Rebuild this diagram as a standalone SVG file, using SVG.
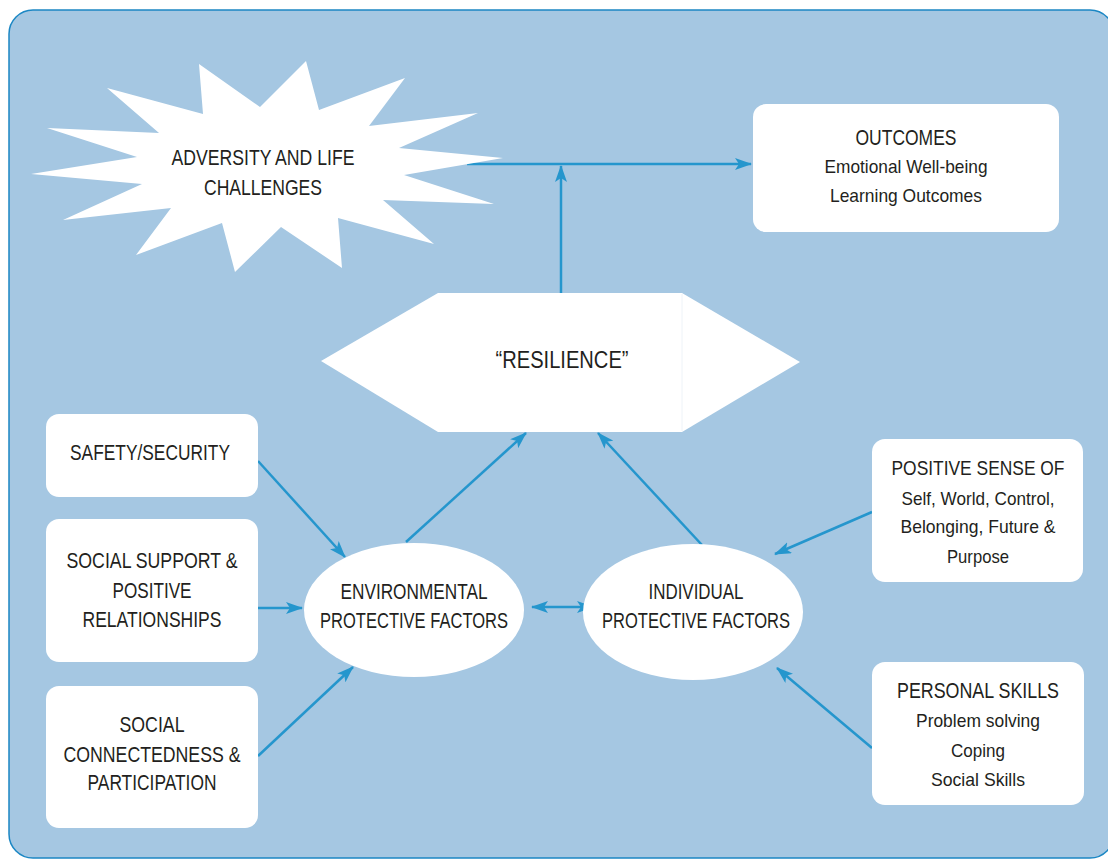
<svg xmlns="http://www.w3.org/2000/svg" width="1108" height="859" viewBox="0 0 1108 859">
<style>
.t{font-family:"Liberation Sans Narrow","Liberation Sans",Arial,sans-serif;fill:#231f20;text-anchor:middle}
.h{font-size:22px}
.s{font-size:19px}
.box{fill:#ffffff}
.c{stroke:#2596cd;stroke-width:2.5;fill:none}
</style>
<defs>
<marker id="ah" viewBox="0 0 17 12" refX="16" refY="6" markerWidth="17" markerHeight="12" markerUnits="userSpaceOnUse" orient="auto-start-reverse">
<path d="M0,0 L17,6 L0,12 L4,6 Z" fill="#2596cd"/>
</marker>
</defs>
<rect x="9" y="10" width="1105" height="848" rx="24" fill="#a5c7e2" stroke="#1b87c4" stroke-width="1.5"/>
<g id="connectors">
<line class="c" x1="467" y1="164" x2="751" y2="164" marker-end="url(#ah)"/>
<line class="c" x1="561" y1="293" x2="561" y2="166" marker-end="url(#ah)"/>
<line class="c" x1="258" y1="461" x2="345" y2="557" marker-end="url(#ah)"/>
<line class="c" x1="258" y1="608" x2="302" y2="608" marker-end="url(#ah)"/>
<line class="c" x1="258" y1="756" x2="353" y2="667" marker-end="url(#ah)"/>
<line class="c" x1="406" y1="542" x2="526" y2="433" marker-end="url(#ah)"/>
<line class="c" x1="702" y1="545" x2="598" y2="433" marker-end="url(#ah)"/>
<line class="c" x1="872" y1="512" x2="775" y2="554" marker-end="url(#ah)"/>
<line class="c" x1="872" y1="748" x2="777" y2="668" marker-end="url(#ah)"/>
<line class="c" x1="532" y1="607" x2="593" y2="607" marker-start="url(#ah)" marker-end="url(#ah)"/>
</g>
<g id="adversity">
<polygon class="box" points="47,128 159,133 107,88 203,114 199,64 260,107 306,61 319,110 405,78 369,126 478,113 399,148 503,158 404,175 494,204 383,200 434,244 338,218 342,268 281,227 235,272 222,223 136,255 171,208 63,220 142,184 31,174 137,157"/>
<text class="t h" x="263" y="165" textLength="183" lengthAdjust="spacingAndGlyphs">ADVERSITY AND LIFE</text>
<text class="t h" x="263" y="195" textLength="118" lengthAdjust="spacingAndGlyphs">CHALLENGES</text>
</g>
<g id="outcomes">
<rect class="box" x="753" y="104" width="306" height="128" rx="13"/>
<text class="t h" x="906" y="145" textLength="101" lengthAdjust="spacingAndGlyphs">OUTCOMES</text>
<text class="t s" x="906" y="173" textLength="163" lengthAdjust="spacingAndGlyphs">Emotional Well-being</text>
<text class="t s" x="906" y="202" textLength="152" lengthAdjust="spacingAndGlyphs">Learning Outcomes</text>
</g>
<g id="resilience">
<polygon class="box" points="321,361 438,293 682,293 800,362 682,432 438,432"/>
<line x1="682" y1="294" x2="682" y2="431" stroke="#eef3f8" stroke-width="1"/>
<text class="t" x="562" y="368" style="font-size:24px" textLength="133" lengthAdjust="spacingAndGlyphs">“RESILIENCE”</text>
</g>
<g id="safety">
<rect class="box" x="46" y="414" width="212" height="83" rx="13"/>
<text class="t h" x="150" y="460" textLength="160" lengthAdjust="spacingAndGlyphs">SAFETY/SECURITY</text>
</g>
<g id="social-support">
<rect class="box" x="46" y="519" width="212" height="143" rx="13"/>
<text class="t h" x="152" y="568" textLength="171" lengthAdjust="spacingAndGlyphs">SOCIAL SUPPORT &amp;</text>
<text class="t h" x="152" y="598" textLength="79" lengthAdjust="spacingAndGlyphs">POSITIVE</text>
<text class="t h" x="152" y="627" textLength="139" lengthAdjust="spacingAndGlyphs">RELATIONSHIPS</text>
</g>
<g id="social-connectedness">
<rect class="box" x="46" y="686" width="212" height="142" rx="13"/>
<text class="t h" x="152" y="732" textLength="65" lengthAdjust="spacingAndGlyphs">SOCIAL</text>
<text class="t h" x="152" y="762" textLength="177" lengthAdjust="spacingAndGlyphs">CONNECTEDNESS &amp;</text>
<text class="t h" x="152" y="790" textLength="129" lengthAdjust="spacingAndGlyphs">PARTICIPATION</text>
</g>
<g id="environmental">
<ellipse class="box" cx="414" cy="610" rx="110" ry="67"/>
<text class="t h" x="414" y="599" textLength="147" lengthAdjust="spacingAndGlyphs">ENVIRONMENTAL</text>
<text class="t h" x="414" y="628" textLength="188" lengthAdjust="spacingAndGlyphs">PROTECTIVE FACTORS</text>
</g>
<g id="individual">
<ellipse class="box" cx="693" cy="612" rx="110" ry="68"/>
<text class="t h" x="696" y="599" textLength="95" lengthAdjust="spacingAndGlyphs">INDIVIDUAL</text>
<text class="t h" x="696" y="628" textLength="188" lengthAdjust="spacingAndGlyphs">PROTECTIVE FACTORS</text>
</g>
<g id="positive-sense">
<rect class="box" x="872" y="439" width="211" height="143" rx="13"/>
<text class="t" x="978" y="475" style="font-size:20.5px" textLength="173" lengthAdjust="spacingAndGlyphs">POSITIVE SENSE OF</text>
<text class="t s" x="978" y="505" textLength="153" lengthAdjust="spacingAndGlyphs">Self, World, Control,</text>
<text class="t s" x="978" y="533" textLength="155" lengthAdjust="spacingAndGlyphs">Belonging, Future &amp;</text>
<text class="t s" x="978" y="563" textLength="62" lengthAdjust="spacingAndGlyphs">Purpose</text>
</g>
<g id="personal-skills">
<rect class="box" x="872" y="662" width="212" height="143" rx="13"/>
<text class="t h" x="978" y="698" textLength="162" lengthAdjust="spacingAndGlyphs">PERSONAL SKILLS</text>
<text class="t s" x="978" y="727" textLength="124" lengthAdjust="spacingAndGlyphs">Problem solving</text>
<text class="t s" x="978" y="757" textLength="54" lengthAdjust="spacingAndGlyphs">Coping</text>
<text class="t s" x="978" y="786" textLength="94" lengthAdjust="spacingAndGlyphs">Social Skills</text>
</g>
</svg>
